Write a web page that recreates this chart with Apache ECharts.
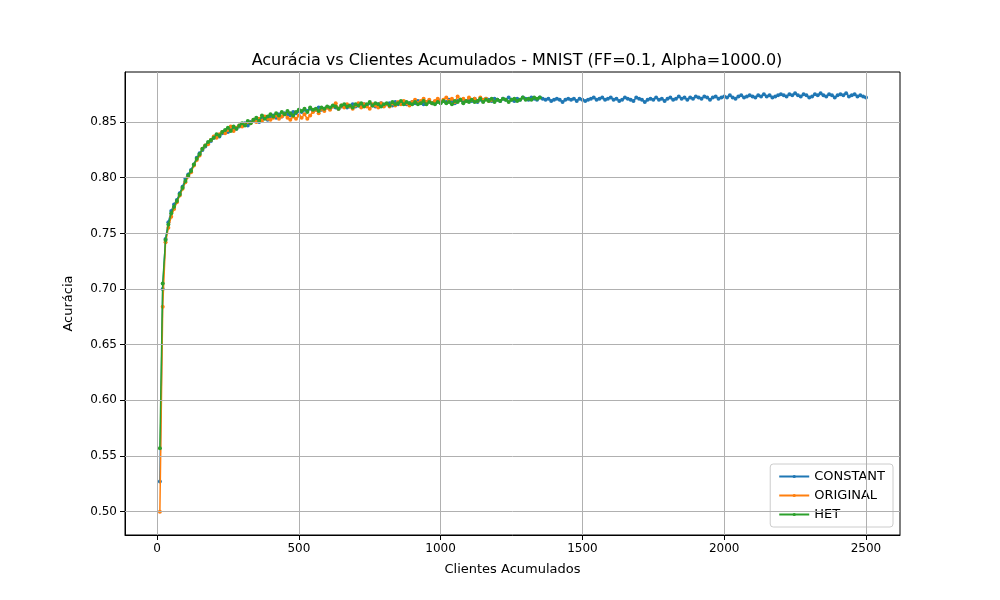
<!DOCTYPE html>
<html><head><meta charset="utf-8">
<script src="https://cdn.jsdelivr.net/npm/echarts@6/dist/echarts.min.js"></script>
<style>body{margin:0}#c{width:1000px;height:600px}</style></head>
<body><div id="c"></div>
<script>
const xStart = 10, xStep = 10;
const constant = [
0.527,0.700,0.745,0.760,0.770,0.776,0.780,0.786,0.792,0.799,
0.803,0.807,0.812,0.818,0.822,0.825,0.828,0.831,0.833,0.836,
0.838,0.837,0.840,0.842,0.841,0.843,0.845,0.844,0.846,0.848,
0.849,0.847,0.850,0.851,0.852,0.850,0.853,0.854,0.852,0.855,
0.856,0.854,0.857,0.855,0.858,0.857,0.856,0.859,0.858,0.860,
0.859,0.861,0.860,0.862,0.860,0.861,0.863,0.861,0.862,0.863,
0.862,0.864,0.863,0.862,0.864,0.865,0.863,0.864,0.866,0.864,
0.865,0.864,0.866,0.865,0.867,0.865,0.864,0.866,0.867,0.865,
0.866,0.867,0.865,0.868,0.866,0.867,0.868,0.866,0.867,0.868,
0.867,0.869,0.868,0.866,0.868,0.869,0.867,0.868,0.870,0.868,
0.869,0.868,0.870,0.869,0.867,0.869,0.870,0.868,0.869,0.870,
0.869,0.871,0.868,0.870,0.869,0.871,0.870,0.869,0.871,0.870,
0.869,0.871,0.870,0.872,0.870,0.869,0.871,0.870,0.872,0.871,
0.870,0.872,0.871,0.870,0.872,0.871,0.870,0.871,0.869,0.870,
0.871,0.870,0.868,0.870,0.871,0.870,0.871,0.869,0.871,0.870,
0.869,0.870,0.871,0.872,0.870,0.871,0.872,0.870,0.871,0.872,
0.870,0.871,0.869,0.870,0.872,0.871,0.870,0.869,0.872,0.871,
0.870,0.868,0.870,0.871,0.870,0.872,0.870,0.871,0.869,0.871,
0.872,0.870,0.871,0.873,0.871,0.872,0.870,0.872,0.871,0.873,
0.872,0.871,0.873,0.872,0.870,0.872,0.873,0.871,0.872,0.873,
0.872,0.874,0.872,0.871,0.873,0.874,0.872,0.873,0.874,0.873,
0.872,0.874,0.873,0.875,0.873,0.874,0.872,0.873,0.874,0.875,
0.874,0.873,0.875,0.874,0.876,0.874,0.873,0.875,0.874,0.872,
0.873,0.875,0.874,0.876,0.874,0.873,0.875,0.874,0.872,0.874,
0.875,0.874,0.876,0.873,0.874,0.875,0.873,0.874,0.873,0.872];
const original = [
0.500,0.684,0.742,0.755,0.765,0.772,0.778,0.784,0.790,0.796,
0.801,0.805,0.811,0.816,0.820,0.826,0.829,0.830,0.834,0.837,
0.836,0.839,0.841,0.840,0.843,0.846,0.842,0.845,0.847,0.846,
0.848,0.850,0.849,0.852,0.850,0.853,0.851,0.855,0.853,0.852,
0.854,0.856,0.853,0.855,0.857,0.854,0.852,0.855,0.853,0.856,
0.854,0.857,0.853,0.856,0.859,0.861,0.858,0.862,0.860,0.863,
0.861,0.864,0.867,0.862,0.865,0.863,0.866,0.864,0.862,0.865,
0.867,0.863,0.866,0.864,0.862,0.866,0.865,0.863,0.867,0.864,
0.866,0.864,0.867,0.865,0.868,0.866,0.869,0.867,0.865,0.868,
0.870,0.867,0.869,0.871,0.868,0.870,0.867,0.869,0.871,0.868,
0.870,0.872,0.869,0.871,0.868,0.873,0.870,0.871,0.869,0.872,
0.870,0.871,0.869,0.872,0.870,0.871,0.869,0.870];
const het = [
0.557,0.705,0.744,0.758,0.768,0.774,0.779,0.785,0.791,0.797,
0.802,0.806,0.812,0.817,0.821,0.826,0.829,0.832,0.834,0.836,
0.839,0.838,0.841,0.843,0.845,0.842,0.846,0.844,0.847,0.849,
0.847,0.851,0.849,0.852,0.854,0.851,0.856,0.853,0.855,0.857,
0.855,0.858,0.856,0.859,0.857,0.860,0.858,0.856,0.859,0.861,
0.860,0.862,0.859,0.863,0.861,0.862,0.860,0.863,0.862,0.864,
0.863,0.865,0.864,0.862,0.865,0.866,0.864,0.865,0.863,0.866,
0.865,0.867,0.864,0.866,0.868,0.865,0.867,0.866,0.864,0.866,
0.867,0.865,0.868,0.866,0.867,0.869,0.866,0.868,0.867,0.866,
0.868,0.866,0.867,0.869,0.866,0.868,0.867,0.866,0.868,0.867,
0.869,0.867,0.868,0.866,0.869,0.868,0.870,0.867,0.869,0.868,
0.870,0.868,0.869,0.871,0.868,0.870,0.869,0.871,0.868,0.870,
0.869,0.871,0.870,0.868,0.870,0.871,0.869,0.870,0.872,0.870,
0.871,0.870,0.872,0.871,0.872];
const xTicks = [0,500,1000,1500,2000,2500];
const yTicks = [0.50,0.55,0.60,0.65,0.70,0.75,0.80,0.85];
const pts = a => a.map((v,i)=>[xStart+i*xStep, v]);
const F = 'DejaVu Sans';
const mk = (name,data,color)=>({name,type:'line',data:pts(data),symbol:'circle',symbolSize:4,
  showSymbol:true,lineStyle:{width:1.5,color},itemStyle:{color},z:name==='HET'?4:(name==='ORIGINAL'?3:2),animation:false});
const gridSeries = {type:'line',data:[],silent:true,z:1,markLine:{silent:true,symbol:'none',animation:false,
  label:{show:false},lineStyle:{color:'#b0b0b0',width:1,type:'solid'},
  data:[...xTicks.map(v=>({xAxis:v})),...yTicks.map(v=>({yAxis:v}))]}};
const chart = echarts.init(document.getElementById('c'));
chart.setOption({
  animation:false,
  title:{text:'Acurácia vs Clientes Acumulados - MNIST (FF=0.1, Alpha=1000.0)',left:512,top:48,textAlign:'center',
    textStyle:{fontFamily:F,fontSize:16,fontWeight:'normal',color:'#000'}},
  grid:{left:125,right:100,top:72,bottom:65,show:true,borderColor:'#000',borderWidth:1},
  legend:{orient:'vertical',right:107,bottom:73,backgroundColor:'#fff',borderColor:'#ccc',borderWidth:1,borderRadius:3,
    padding:[6,8],itemGap:6,itemWidth:30,itemHeight:4,textStyle:{fontFamily:F,fontSize:13,color:'#000'},
    data:['CONSTANT','ORIGINAL','HET']},
  xAxis:{type:'value',min:-113,max:2620,name:'Clientes Acumulados',nameLocation:'middle',nameGap:28,
    nameTextStyle:{fontFamily:F,fontSize:13,color:'#000'},
    axisLine:{onZero:false,lineStyle:{color:'#000'}},
    axisLabel:{fontFamily:F,fontSize:12,color:'#000',customValues:xTicks,formatter:v=>String(v)},
    axisTick:{customValues:xTicks,lineStyle:{color:'#000'}},
    splitLine:{show:false}},
  yAxis:{type:'value',min:0.479,max:0.895,name:'Acurácia',nameLocation:'middle',nameGap:50,
    nameTextStyle:{fontFamily:F,fontSize:13,color:'#000'},
    axisLine:{show:true,onZero:false,lineStyle:{color:'#000'}},
    axisLabel:{fontFamily:F,fontSize:12,color:'#000',customValues:yTicks,formatter:v=>v.toFixed(2)},
    axisTick:{show:true,customValues:yTicks,lineStyle:{color:'#000'}},
    splitLine:{show:false}},
  series:[gridSeries,mk('CONSTANT',constant,'#1f77b4'),mk('ORIGINAL',original,'#ff7f0e'),mk('HET',het,'#2ca02c')]
});
</script></body></html>
